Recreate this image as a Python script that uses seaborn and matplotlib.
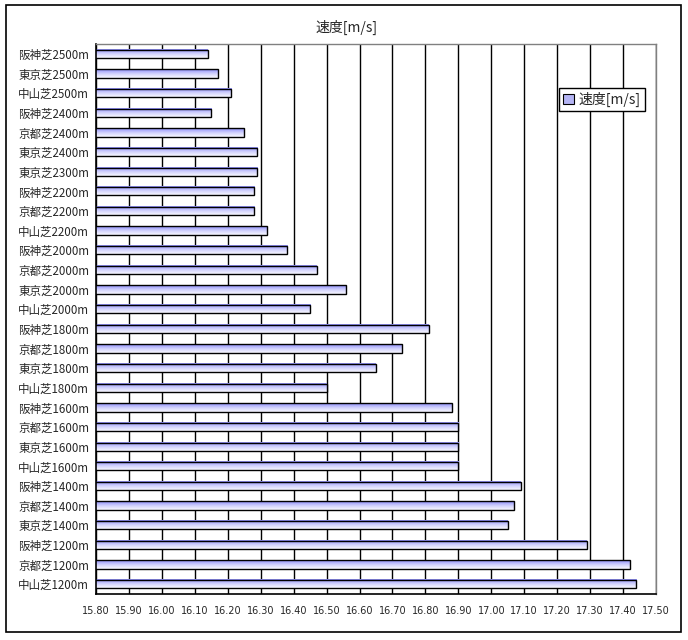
import numpy as np
import pandas as pd
import matplotlib
matplotlib.use("Agg")
import matplotlib.pyplot as plt
import seaborn as sns
from matplotlib.patches import Patch, Rectangle
from matplotlib.ticker import FormatStrFormatter, MultipleLocator

# data (top to bottom as in the chart)
courses = ["阪神芝2500m", "東京芝2500m", "中山芝2500m", "阪神芝2400m", "京都芝2400m",
           "東京芝2400m", "東京芝2300m", "阪神芝2200m", "京都芝2200m", "中山芝2200m",
           "阪神芝2000m", "京都芝2000m", "東京芝2000m", "中山芝2000m", "阪神芝1800m",
           "京都芝1800m", "東京芝1800m", "中山芝1800m", "阪神芝1600m", "京都芝1600m",
           "東京芝1600m", "中山芝1600m", "阪神芝1400m", "京都芝1400m", "東京芝1400m",
           "阪神芝1200m", "京都芝1200m", "中山芝1200m"]
speed = [16.14, 16.17, 16.21, 16.15, 16.25,
         16.29, 16.29, 16.28, 16.28, 16.32,
         16.38, 16.47, 16.56, 16.45, 16.81,
         16.73, 16.65, 16.50, 16.88, 16.90,
         16.90, 16.90, 17.09, 17.07, 17.05,
         17.29, 17.42, 17.44]
series_name = "速度[m/s]"

x_min, x_max = 15.80, 17.50

df = pd.DataFrame({"course": courses, "speed": speed})

sns.set_style("white")
plt.rcParams["font.family"] = ["Noto Sans CJK JP", "DejaVu Sans"]

fig = plt.figure(figsize=(6.88, 6.40), dpi=100)
ax = fig.add_axes([96 / 688, 1 - 594 / 640, 560 / 688, 550 / 640])

# outer chart border
fig.patches.append(Rectangle((6 / 688, 1 - 632 / 640), 675 / 688, 627 / 640,
                             transform=fig.transFigure, fill=False,
                             edgecolor="black", linewidth=1.2))

sns.barplot(data=df, x="speed", y="course", orient="h", width=0.42,
            color="#b0b0f0", edgecolor="black", linewidth=1.0, ax=ax, zorder=3)

# gradient fill inside each bar (only the visible part, from the axis start)
grad = np.linspace(0, 1, 64).reshape(-1, 1)
cmap = matplotlib.colors.LinearSegmentedColormap.from_list(
    "bar", ["#8c8cfa", "#d0d0fc", "#f8f8ff"])
for p in ax.patches:
    x0, y0 = p.get_x(), p.get_y()
    w, h = p.get_width(), p.get_height()
    left = max(x0, x_min)
    ax.imshow(grad, cmap=cmap, aspect="auto", interpolation="bilinear",
              extent=(left, x0 + w, y0 + h, y0), zorder=2.5)
    p.set_facecolor("none")
ax.set_xlim(x_min, x_max)
ax.set_ylim(len(courses) - 0.5, -0.5)

# grid and axes
ax.xaxis.set_major_locator(MultipleLocator(0.1))
ax.xaxis.set_major_formatter(FormatStrFormatter("%.2f"))
ax.grid(axis="x", color="black", linewidth=1.0, zorder=1)
ax.set_axisbelow(True)
ax.set_xlabel("")
ax.set_ylabel("")
ax.tick_params(axis="x", length=0, labelsize=7, pad=9)
ax.tick_params(axis="y", length=0, labelsize=8.3, pad=5)
ax.set_yticks(np.arange(len(courses)) + 0.5, minor=True)
ax.tick_params(axis="y", which="minor", direction="in", length=3, width=1, color="black")
for lab in ax.get_xticklabels():
    lab.set_family("DejaVu Sans")

for side in ["left", "bottom"]:
    ax.spines[side].set_color("black")
    ax.spines[side].set_linewidth(1.2)
for side in ["top", "right"]:
    ax.spines[side].set_visible(True)
    ax.spines[side].set_color("#808080")
    ax.spines[side].set_linewidth(1.0)

fig.text(347 / 688, 1 - 27 / 640, series_name, ha="center", va="center", fontsize=10)

handle = Patch(facecolor="#b4b4f4", edgecolor="black", linewidth=0.8)
leg = fig.legend([handle], [series_name], loc="center",
                 bbox_to_anchor=(602 / 688, 1 - 99.5 / 640), fontsize=10,
                 handlelength=0.8, handleheight=0.8, handletextpad=0.3,
                 borderpad=0.3, fancybox=False, framealpha=1)
leg.get_frame().set_edgecolor("black")
leg.get_frame().set_linewidth(1.0)

fig.savefig("out.png", dpi=100)
